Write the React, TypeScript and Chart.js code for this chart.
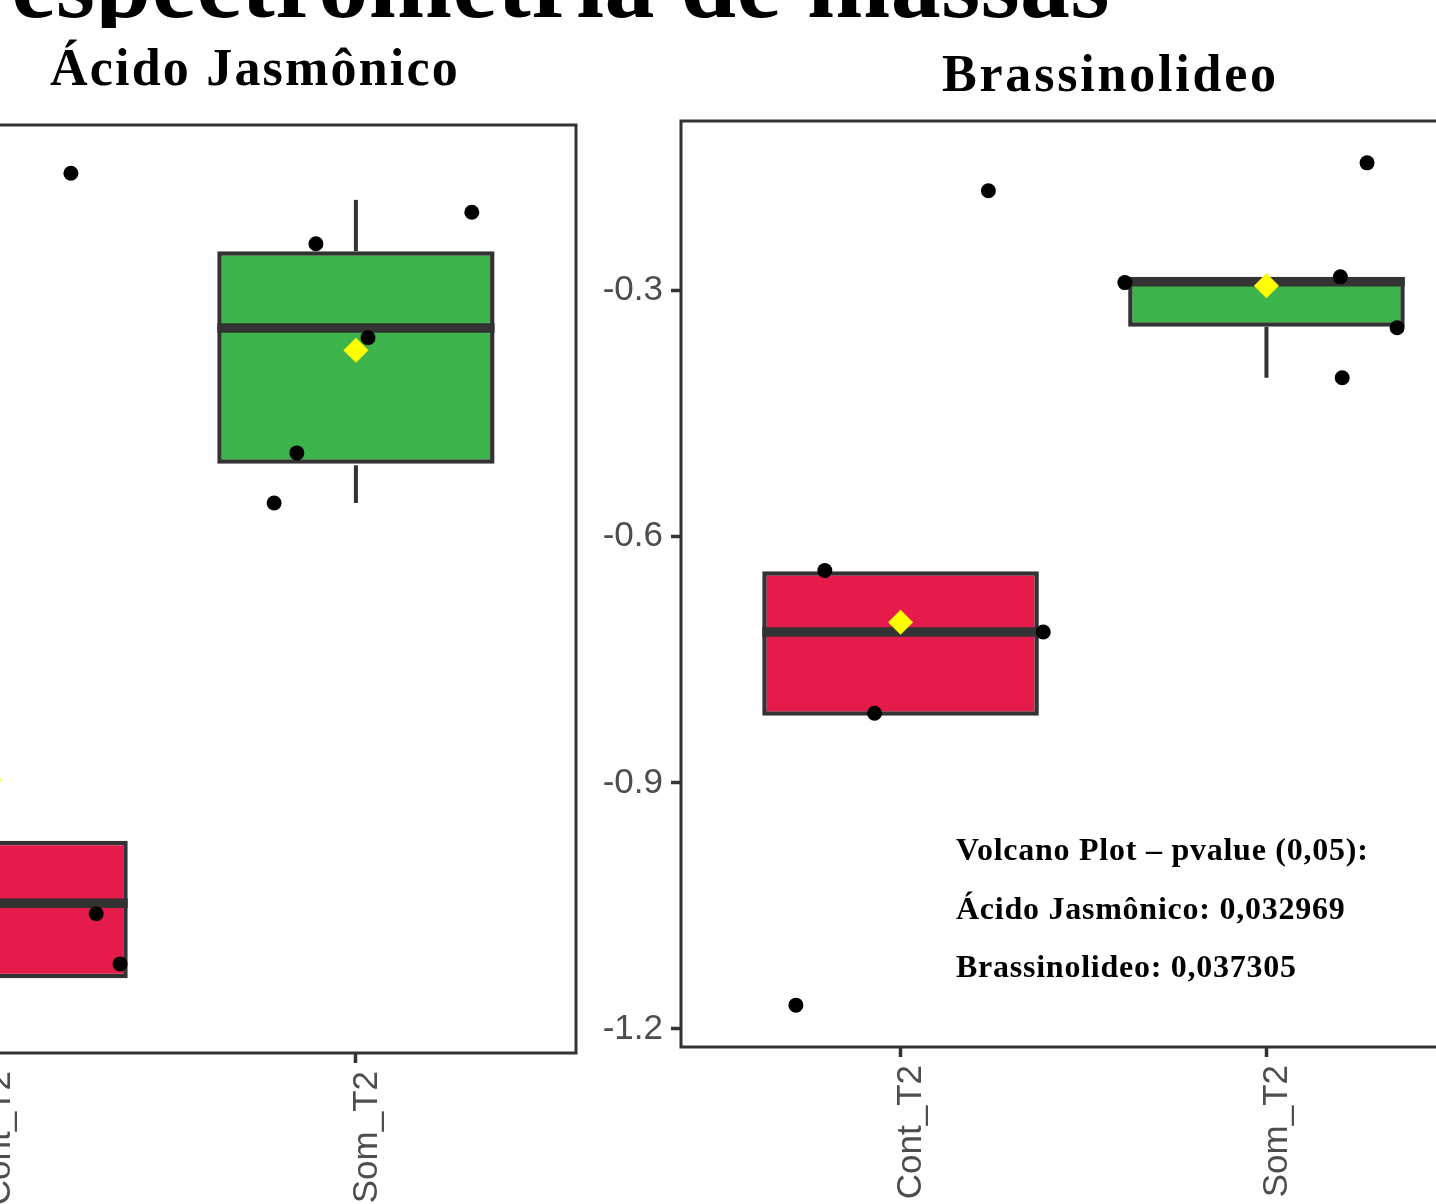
import React, { useEffect, useRef } from 'react';
import { Chart, registerables } from 'chart.js';

Chart.register(...registerables);

// ---------- data ----------
const CATEGORIES = ['Cont_T2', 'Som_T2'];
const BOX_COLORS = ['#E51C4B', '#3DB44B'];

// Ácido Jasmônico (y axis not visible in the reference)
const AJ_Y_MIN = -0.95;
const AJ_Y_MAX = 0.55;
const AJ_Y_TICKS = [-0.8, -0.4, 0.0, 0.4];
const AJ_Q1 = [-0.829, 0.0];
const AJ_MEDIAN = [-0.708, 0.222];
const AJ_Q3 = [-0.607, 0.346];
const AJ_WHISKER_LOW = [-0.882, -0.061];
const AJ_WHISKER_HIGH = [-0.607, 0.429];
const AJ_MEAN = [-0.509, 0.186];
const AJ_POINT_X = [1.223, 1.292, 1.357, 0.72, 0.85, 1.891, 2.316, 2.033, 1.839, 1.777];
const AJ_POINT_Y = [0.472, -0.725, -0.806, -0.607, -0.882, 0.358, 0.409, 0.206, 0.02, -0.061];

// Brassinolideo
const BR_Y_MIN = -1.222;
const BR_Y_MAX = -0.093;
const BR_Y_TICKS = [-1.2, -0.9, -0.6, -0.3];
const BR_Q1 = [-0.818, -0.344];
const BR_MEDIAN = [-0.716, -0.289];
const BR_Q3 = [-0.642, -0.283];
const BR_WHISKER_LOW = [-0.818, -0.406];
const BR_WHISKER_HIGH = [-0.642, -0.283];
const BR_MEAN = [-0.704, -0.294];
const BR_POINT_X = [0.793, 1.39, 0.929, 1.24, 0.714, 1.613, 2.202, 2.357, 2.207, 2.275];
const BR_POINT_Y = [-0.641, -0.716, -0.815, -0.178, -1.171, -0.29, -0.283, -0.345, -0.406, -0.144];

const ANNOTATION = [
  'Volcano Plot – pvalue (0,05):',
  'Ácido Jasmônico: 0,032969',
  'Brassinolideo: 0,037305',
];

// ---------- styling ----------
const DARK = '#333333';
const SANS = "'Liberation Sans', Arial, sans-serif";
const SERIF = "'Liberation Serif', 'Times New Roman', serif";
const BOX_HALF = 0.378;

const panelBorder = {
  id: 'panelBorder',
  afterDraw(chart: any) {
    const { ctx, chartArea } = chart;
    ctx.save();
    ctx.strokeStyle = DARK;
    ctx.lineWidth = 3;
    ctx.strokeRect(chartArea.left, chartArea.top, chartArea.right - chartArea.left, chartArea.bottom - chartArea.top);
    ctx.restore();
  },
};

function buildConfig(p: any) {
  const datasets: any[] = [];
  CATEGORIES.forEach((_, i) => {
    const x = i + 1;
    datasets.push({
      type: 'scatter', showLine: true, order: 5, borderColor: DARK, borderWidth: 4,
      pointRadius: 0, pointHoverRadius: 0,
      data: [{ x, y: p.q3[i] }, { x, y: p.wh[i] }],
    });
    datasets.push({
      type: 'scatter', showLine: true, order: 5, borderColor: DARK, borderWidth: 4,
      pointRadius: 0, pointHoverRadius: 0,
      data: [{ x, y: p.q1[i] }, { x, y: p.wl[i] }],
    });
  });
  datasets.push({
    type: 'bar', order: 4,
    data: CATEGORIES.map((_, i) => ({ x: i + 1, y: [p.q1[i], p.q3[i]] })),
    backgroundColor: BOX_COLORS,
    borderColor: DARK,
    borderWidth: 4.5,
    borderSkipped: false,
    barPercentage: 0.756,
    categoryPercentage: 1,
  });
  CATEGORIES.forEach((_, i) => {
    const x = i + 1;
    datasets.push({
      type: 'scatter', showLine: true, order: 3, borderColor: DARK, borderWidth: 9.5,
      pointRadius: 0, pointHoverRadius: 0,
      data: [{ x: x - BOX_HALF, y: p.med[i] }, { x: x + BOX_HALF, y: p.med[i] }],
    });
  });
  datasets.push({
    type: 'scatter', order: 2,
    data: p.px.map((x: number, i: number) => ({ x, y: p.py[i] })),
    pointRadius: 7.5, pointHoverRadius: 7.5, backgroundColor: '#000000', borderWidth: 0,
  });
  datasets.push({
    type: 'scatter', order: 1,
    data: p.mean.map((m: number, i: number) => ({ x: i + 1, y: m })),
    pointStyle: 'rectRot', pointRadius: 12.5, pointHoverRadius: 12.5,
    backgroundColor: '#FFFF00', borderWidth: 0,
  });

  const grid = {
    drawOnChartArea: false, drawTicks: true, tickLength: 10, tickWidth: 3.5,
    tickColor: DARK, color: DARK, lineWidth: 3, offset: false,
  };

  return {
    type: 'scatter',
    data: { datasets },
    plugins: [panelBorder],
    options: {
      responsive: false,
      animation: false,
      events: [],
      layout: { padding: { top: 25, right: 20, bottom: 0, left: 0 } },
      plugins: { legend: { display: false }, tooltip: { enabled: false }, title: { display: false } },
      scales: {
        x: {
          type: 'linear', min: 0.4, max: 2.6, offset: false,
          afterBuildTicks: (s: any) => { s.ticks = CATEGORIES.map((_, i) => ({ value: i + 1 })); },
          afterFit: (s: any) => { s.height = 160; s.paddingLeft = 0; s.paddingRight = 0; },
          grid, border: { display: false },
          ticks: {
            autoSkip: false, minRotation: 90, maxRotation: 90, padding: 8, labelOffset: 11,
            color: '#4D4D4D', font: { family: SANS, size: 35 },
            callback: (v: number) => CATEGORIES[Math.round(v) - 1] ?? '',
          },
        },
        y: {
          type: 'linear', min: p.yMin, max: p.yMax,
          afterBuildTicks: (s: any) => { s.ticks = p.yTicks.map((v: number) => ({ value: v })); },
          afterFit: (s: any) => { s.width = 91; s.paddingTop = 0; s.paddingBottom = 0; },
          grid, border: { display: false },
          ticks: {
            padding: 8, color: '#4D4D4D', font: { family: SANS, size: 35 },
            callback: (v: number) => Number(v).toFixed(1),
          },
        },
      },
    },
  };
}

function BoxChart({ panel, width, height, left, top }: any) {
  const ref = useRef<HTMLCanvasElement | null>(null);
  useEffect(() => {
    if (!ref.current) return;
    const chart = new Chart(ref.current, buildConfig(panel) as any);
    return () => chart.destroy();
  }, []);
  return (
    <canvas
      ref={ref}
      width={width}
      height={height}
      style={{ position: 'absolute', left, top, width, height, display: 'block' }}
    />
  );
}

const AJ_PANEL = {
  yMin: AJ_Y_MIN, yMax: AJ_Y_MAX, yTicks: AJ_Y_TICKS,
  q1: AJ_Q1, med: AJ_MEDIAN, q3: AJ_Q3, wl: AJ_WHISKER_LOW, wh: AJ_WHISKER_HIGH,
  mean: AJ_MEAN, px: AJ_POINT_X, py: AJ_POINT_Y,
};
const BR_PANEL = {
  yMin: BR_Y_MIN, yMax: BR_Y_MAX, yTicks: BR_Y_TICKS,
  q1: BR_Q1, med: BR_MEDIAN, q3: BR_Q3, wl: BR_WHISKER_LOW, wh: BR_WHISKER_HIGH,
  mean: BR_MEAN, px: BR_POINT_X, py: BR_POINT_Y,
};

export default function App() {
  const titleStyle: any = {
    position: 'absolute', fontFamily: SERIF, fontWeight: 'bold', fontSize: 52,
    lineHeight: '52px', letterSpacing: 2.2, whiteSpace: 'nowrap', color: '#000',
  };
  const noteStyle: any = {
    position: 'absolute', left: 956, fontFamily: SERIF, fontWeight: 'bold', fontSize: 32,
    lineHeight: '32px', letterSpacing: 0.75, whiteSpace: 'nowrap', color: '#000',
  };
  return (
    <div style={{ position: 'fixed', left: 0, top: 0, width: 1436, height: 1204, overflow: 'hidden', background: '#fff' }}>
      <div style={{ position: 'absolute', left: 0, top: 0, width: 1436, height: 28, overflow: 'hidden' }}>
        <div style={{
          position: 'absolute', right: 1436 - 1110, top: -66, fontFamily: SERIF, fontWeight: 'bold',
          fontSize: 100, lineHeight: '100px', letterSpacing: 0.5, whiteSpace: 'nowrap', color: '#000',
        }}>espectrometria de massas</div>
      </div>
      <div style={{ ...titleStyle, left: 50, top: 42 }}>Ácido Jasmônico</div>
      <div style={{ ...titleStyle, left: 942, top: 48, letterSpacing: 2.8 }}>Brassinolideo</div>
      <BoxChart panel={AJ_PANEL} width={918} height={1113} left={-322} top={100} />
      <BoxChart panel={BR_PANEL} width={916} height={1111} left={590} top={96} />
      {ANNOTATION.map((t, i) => (
        <div key={i} style={{ ...noteStyle, top: [833, 892, 950][i] }}>{t}</div>
      ))}
    </div>
  );
}
